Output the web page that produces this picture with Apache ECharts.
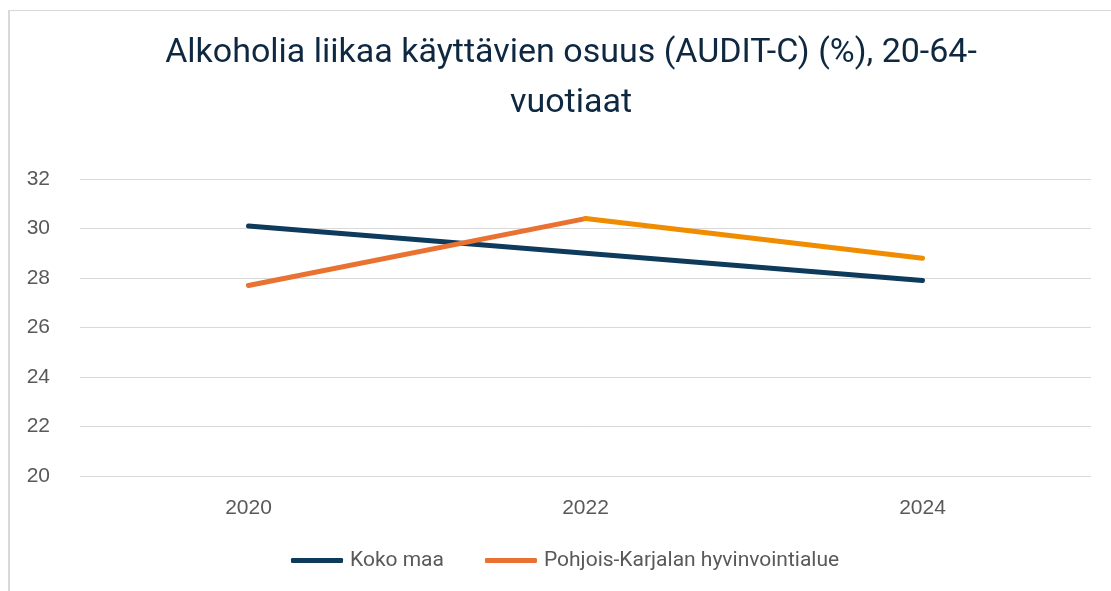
<!DOCTYPE html>
<html>
<head>
<meta charset="utf-8">
<script src="https://cdn.jsdelivr.net/npm/echarts@6/dist/echarts.min.js"></script>
<style>
    html, body { margin: 0; padding: 0; background: #fff; }
    #main { width: 1111px; height: 591px; }
</style>
</head>
<body>
<div id="main"></div>
<script>
var years = ['2020', '2022', '2024'];
var kokoMaa = [30.1, 29.0, 27.9];
var pohjoisKarjala = [27.7, 30.4, 28.8];
var yTicks = [20, 22, 24, 26, 28, 30, 32];

var KOKO_NAME = 'Koko maa';
var PK_NAME = 'Pohjois-Karjalan hyvinvointialue';

window.onload = function () {
    var myChart = echarts.init(document.getElementById('main'));

    // Excel chart had the last segment of the orange line in a different shade
    var pkFirst = pohjoisKarjala.map(function (v, i) { return i <= 1 ? v : '-'; });
    var pkLast = pohjoisKarjala.map(function (v, i) { return i >= 1 ? v : '-'; });

    var option = {
        animation: false,
        textStyle: { fontFamily: 'Roboto' },
        title: {
            text: 'Alkoholia liikaa käyttävien osuus (AUDIT-C) (%), 20-64-\nvuotiaat',
            left: 566,
            top: 23,
            textAlign: 'center',
            textStyle: {
                fontFamily: 'Roboto',
                fontSize: 34,
                fontWeight: 'normal',
                color: '#0E2841',
                lineHeight: 50
            }
        },
        legend: {
            bottom: 15,
            left: 286,
            itemWidth: 52,
            itemHeight: 5,
            itemGap: 41,
            icon: 'roundRect',
            data: [KOKO_NAME, PK_NAME],
            textStyle: { fontSize: 21, color: '#595959', fontFamily: 'Roboto', padding: [0, 0, 0, 2] }
        },
        graphic: [
            { type: 'line', shape: { x1: 9, y1: 10.5, x2: 1111, y2: 10.5 }, style: { stroke: '#d9d9d9', lineWidth: 1 } },
            { type: 'line', shape: { x1: 9, y1: 10, x2: 9, y2: 591 }, style: { stroke: '#d9d9d9', lineWidth: 2 } }
        ],
        grid: { left: 80, right: 20, top: 179, bottom: 115 },
        xAxis: {
            type: 'category',
            data: years,
            boundaryGap: true,
            axisLine: { show: false },
            axisTick: { show: false },
            axisLabel: { fontSize: 21, color: '#595959', margin: 22, fontFamily: 'Liberation Sans' }
        },
        yAxis: {
            type: 'value',
            min: yTicks[0],
            max: yTicks[yTicks.length - 1],
            interval: 2,
            axisLine: { show: false },
            axisTick: { show: false },
            axisLabel: { fontSize: 21, color: '#595959', margin: 30, fontFamily: 'Liberation Sans' },
            splitLine: { lineStyle: { color: '#d9d9d9', width: 1 } }
        },
        series: [
            {
                name: KOKO_NAME,
                type: 'line',
                data: kokoMaa,
                symbol: 'none',
                color: '#0E3A5C',
                lineStyle: { width: 5, color: '#0E3A5C', cap: 'round', join: 'round' }
            },
            {
                name: PK_NAME,
                type: 'line',
                data: pkFirst,
                symbol: 'none',
                color: '#E97132',
                lineStyle: { width: 5, color: '#E97132', cap: 'round', join: 'round' }
            },
            {
                name: 'pk-last',
                type: 'line',
                data: pkLast,
                symbol: 'none',
                color: '#F08C00',
                lineStyle: { width: 5, color: '#F08C00', cap: 'round', join: 'round' }
            }
        ]
    };

    myChart.setOption(option);
};
</script>
</body>
</html>
